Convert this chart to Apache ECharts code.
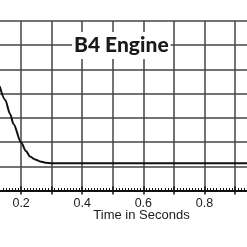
<!DOCTYPE html>
<html>
<head>
<meta charset="utf-8">
<script src="https://cdn.jsdelivr.net/npm/echarts@6/dist/echarts.min.js"></script>
<style>html,body{margin:0;padding:0;background:#fff}#c{width:247px;height:247px}</style>
</head>
<body>
<div id="c"></div>
<script>
const chartTitle = 'B4 Engine';
const xAxisTitle = 'Time in Seconds';
const timeSec = [0.13, 0.148, 0.164, 0.175, 0.2, 0.216, 0.229, 0.246, 0.262, 0.28, 0.3, 0.4, 0.5, 0.6, 0.7, 0.8, 0.9, 1.0, 1.05];
const thrust  = [4.30, 3.74, 3.16, 2.75, 1.98, 1.63, 1.40, 1.28, 1.20, 1.15, 1.13, 1.13, 1.13, 1.13, 1.13, 1.13, 1.13, 1.13, 1.13];

const chart = echarts.init(document.getElementById('c'), null, {renderer: 'canvas'});
const gridColor = '#454545';
chart.setOption({
  animation: false,
  backgroundColor: '#fff',
  title: [
    {
      text: chartTitle, left: 72, top: 32, padding: [3, 2, 3, 2],
      backgroundColor: '#fff',
      textStyle: {fontFamily: 'Lato', fontWeight: 900, fontSize: 21, color: '#1a1a1a', lineHeight: 21}
    },
    {
      text: xAxisTitle, left: 141.5, top: 209, textAlign: 'center', padding: 0,
      textStyle: {fontFamily: 'Liberation Sans', fontWeight: 'normal', fontSize: 13, color: '#1a1a1a'}
    }
  ],
  grid: {left: -40, right: -18.6, top: 21, bottom: 56.5, containLabel: false, outerBoundsMode: 'none'},
  xAxis: [
    {
      type: 'value', min: 0, max: 1, interval: 0.1, position: 'bottom',
      axisLine: {show: true, lineStyle: {color: '#111', width: 2}},
      axisTick: {show: true, inside: false, length: 4, lineStyle: {color: '#111', width: 1.5}},
      axisLabel: {
        show: true, margin: 7, fontFamily: 'Liberation Sans', fontSize: 12.5, color: '#1a1a1a',
        formatter: v => (Math.round(v * 10) % 2 === 0 ? v.toFixed(1) : '')
      },
      splitLine: {show: true, lineStyle: {color: gridColor, width: 1.5}}
    },
    {
      type: 'value', min: 0, max: 1, interval: 0.1, position: 'bottom',
      axisLine: {show: true, lineStyle: {color: '#111', width: 2}},
      axisTick: {show: true, inside: true, length: 4, lineStyle: {color: '#111', width: 1.5}},
      minorTick: {show: true, splitNumber: 10, length: 2.5, lineStyle: {color: '#111', width: 1}},
      axisLabel: {show: false},
      splitLine: {show: false}
    }
  ],
  yAxis: {
    type: 'value', min: 0, max: 7, interval: 1,
    axisLine: {show: false}, axisTick: {show: false}, axisLabel: {show: false},
    splitLine: {show: true, lineStyle: {color: gridColor, width: 1.5}}
  },
  series: [{
    type: 'line', xAxisIndex: 0,
    data: timeSec.map((t, i) => [t, thrust[i]]),
    showSymbol: false, smooth: 0.3, smoothMonotone: 'x',
    lineStyle: {color: '#111', width: 2},
    z: 3
  }]
});
</script>
</body>
</html>
